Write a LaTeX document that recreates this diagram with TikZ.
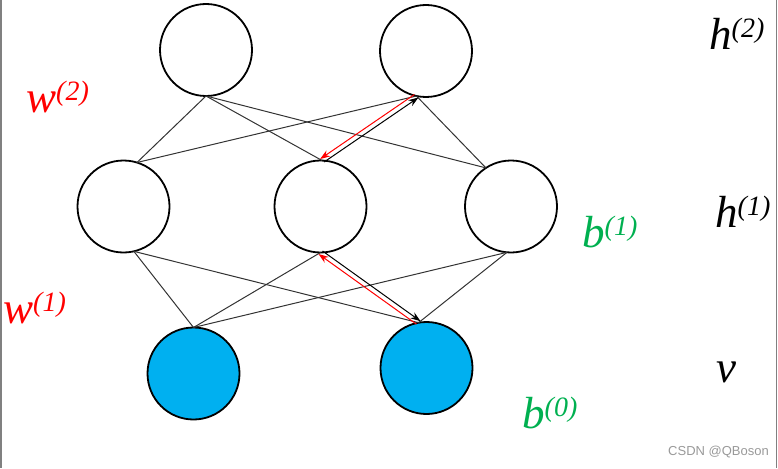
\documentclass[tikz,border=0pt]{standalone}
\usepackage{fontspec}
\setmainfont{Liberation Serif}
\newfontfamily\wmfont{Liberation Sans}
\usetikzlibrary{arrows.meta}
\definecolor{nodeblue}{HTML}{00B0F0}
\definecolor{labgreen}{HTML}{00B050}
\definecolor{labred}{HTML}{FF0000}
\newcommand\mysup[1]{\raisebox{12pt}{\fontsize{28}{28}\selectfont\itshape(#1)}}
\begin{document}
\begin{tikzpicture}[x=1pt,y=-1pt,
  neuron/.style={circle,draw=black,line width=1.8pt,minimum size=92pt,inner sep=0pt,outer sep=0pt},
  visible/.style={neuron,fill=nodeblue},
  conn/.style={draw=black!80,line width=1pt},
  arr/.style={line width=1pt,-{Stealth[length=10pt,width=7pt]}},
  lab/.style={anchor=base west,inner sep=0pt,font=\fontsize{45}{45}\selectfont\itshape}]
\useasboundingbox (0,0) rectangle (778,468);
\draw[gray,line width=1.5pt] (0.75,0) -- (0.75,468);
\draw[gray,line width=1.5pt] (776.5,0) -- (776.5,468);
% nodes
\node[neuron] (t1) at (206,50) {};
\node[neuron] (t2) at (426,51) {};
\node[neuron] (m1) at (123.5,206.5) {};
\node[neuron] (m2) at (320.5,206.5) {};
\node[neuron] (m3) at (511,206.5) {};
\node[visible] (b1) at (193.5,373.5) {};
\node[visible] (b2) at (426.5,368) {};
% top connectors
\draw[conn] (t1.-90) -- (m1.73);
\draw[conn] (t1.-90) -- (m2.88);
\draw[conn] (t1.-90) -- (m3.123);
\draw[conn] (t2.-102) -- (m1.73);
\draw[conn] (t2.-102) -- (m3.123);
% bottom connectors
\draw[conn] (b1.90) -- (m1.-77);
\draw[conn] (b1.90) -- (m2.-90);
\draw[conn] (b1.90) -- (m3.-95);
\draw[conn] (b2.100) -- (m1.-77);
\draw[conn] (b2.100) -- (m3.-95);
% arrows between m2 and t2
\draw[arr,black] ([shift={(2,1.5)}]m2.88) -- ([shift={(2,1.5)}]t2.-102);
\draw[arr,labred] ([shift={(-2,-1.5)}]t2.-102) -- ([shift={(-2,-1.5)}]m2.88);
% arrows between m2 and b2
\draw[arr,black] ([shift={(2,-1.5)}]m2.-90) -- ([shift={(2,-1.5)}]b2.100);
\draw[arr,labred] ([shift={(-2,1.5)}]b2.100) -- ([shift={(-2,1.5)}]m2.-90);
% labels
\node[lab,text=labred] (w2) at (26,113) {w\mysup{2}};
\node[lab,text=labred] (w1) at (3,323) {w\mysup{1}};
\node[lab,text=labgreen] (bb1) at (582,247) {b\mysup{1}};
\node[lab,text=labgreen] (bb0) at (522,428) {b\mysup{0}};
\node[lab] (h2) at (709,50) {h\mysup{2}};
\node[lab] (h1) at (715,227) {h\mysup{1}};
\node[lab] (vv) at (716,382) {v};
\node[anchor=base west,inner sep=0pt,text=gray!80,font=\wmfont\fontsize{13}{13}\selectfont] (wm) at (668,455) {CSDN @QBoson};
\end{tikzpicture}
\end{document}
